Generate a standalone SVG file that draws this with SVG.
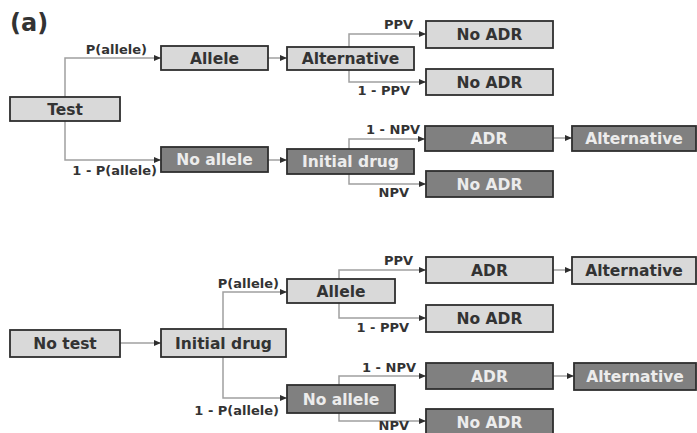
<svg xmlns="http://www.w3.org/2000/svg" width="697" height="433" viewBox="0 0 697 433">
<defs>
<marker id="ah" markerWidth="7" markerHeight="6" refX="7" refY="3" orient="auto" markerUnits="userSpaceOnUse">
<path d="M0,0 L7,3 L0,6 Z" fill="#2e2e2e"/>
</marker>
<style>
.lt{fill:#d9d9d9;stroke:#2e2e2e;stroke-width:1.8}
.dk{fill:#808080;stroke:#2e2e2e;stroke-width:1.8}
.t{font-family:"DejaVu Sans",sans-serif;font-weight:bold;font-size:15.5px;text-anchor:middle;fill:#333}
.tw{font-family:"DejaVu Sans",sans-serif;font-weight:bold;font-size:15.5px;text-anchor:middle;fill:#ececec}
.lb{font-family:"DejaVu Sans",sans-serif;font-weight:bold;font-size:13px;fill:#333}
.c{fill:none;stroke:#a0a0a0;stroke-width:1.5;marker-end:url(#ah)}
</style>
</defs>
<rect width="697" height="433" fill="#ffffff"/>
<text x="10" y="31" style="font-family:'DejaVu Sans',sans-serif;font-weight:bold;font-size:24px;fill:#333">(a)</text>

<g id="connectors">
<path class="c" d="M65,97 V58 H161"/>
<path class="c" d="M65,121 V160 H161"/>
<path class="c" d="M268,58 H287"/>
<path class="c" d="M268,160 H287"/>
<path class="c" d="M349,47 V34 H426"/>
<path class="c" d="M349,70 V82 H426"/>
<path class="c" d="M349,149 V139 H425"/>
<path class="c" d="M349,174 V184 H426"/>
<path class="c" d="M553,138 H572"/>
<path class="c" d="M120,343 H161"/>
<path class="c" d="M223,329 V292 H287"/>
<path class="c" d="M223,357 V398 H287"/>
<path class="c" d="M339,279 V270 H426"/>
<path class="c" d="M339,303 V318 H426"/>
<path class="c" d="M339,385 V376 H426"/>
<path class="c" d="M339,413 V421 H426"/>
<path class="c" d="M553,270 H572"/>
<path class="c" d="M553,376 H574"/>
</g>

<g id="labels">
<text class="lb" x="147" y="54" text-anchor="end">P(allele)</text>
<text class="lb" x="157" y="175" text-anchor="end">1 - P(allele)</text>
<text class="lb" x="413" y="29" text-anchor="end">PPV</text>
<text class="lb" x="410" y="95" text-anchor="end">1 - PPV</text>
<text class="lb" x="420" y="134" text-anchor="end">1 - NPV</text>
<text class="lb" x="409" y="197" text-anchor="end">NPV</text>
<text class="lb" x="279" y="288" text-anchor="end">P(allele)</text>
<text class="lb" x="279" y="415" text-anchor="end">1 - P(allele)</text>
<text class="lb" x="413" y="265" text-anchor="end">PPV</text>
<text class="lb" x="409" y="332" text-anchor="end">1 - PPV</text>
<text class="lb" x="416" y="372" text-anchor="end">1 - NPV</text>
<text class="lb" x="409" y="429.5" text-anchor="end">NPV</text>
</g>

<g id="test"><rect class="lt" x="10" y="97" width="110" height="24"/><text class="t" x="65" y="114.5">Test</text></g>
<g id="allele1"><rect class="lt" x="161" y="46" width="107" height="24"/><text class="t" x="214.5" y="63.5">Allele</text></g>
<g id="noallele1"><rect class="dk" x="161" y="147" width="107" height="25"/><text class="tw" x="214.5" y="165">No allele</text></g>
<g id="alternative1"><rect class="lt" x="287" y="47" width="127" height="23"/><text class="t" x="350.5" y="64">Alternative</text></g>
<g id="initialdrug1"><rect class="dk" x="287" y="149" width="127" height="25"/><text class="tw" x="350.5" y="167">Initial drug</text></g>
<g id="noadr1"><rect class="lt" x="426" y="21" width="127" height="27"/><text class="t" x="489.5" y="40">No ADR</text></g>
<g id="noadr2"><rect class="lt" x="426" y="69" width="127" height="26"/><text class="t" x="489.5" y="87.5">No ADR</text></g>
<g id="adr1"><rect class="dk" x="425" y="126" width="128" height="25"/><text class="tw" x="489" y="144">ADR</text></g>
<g id="alternative2"><rect class="dk" x="572" y="126" width="124" height="25"/><text class="tw" x="634" y="144">Alternative</text></g>
<g id="noadr3"><rect class="dk" x="426" y="171" width="127" height="26"/><text class="tw" x="489.5" y="189.5">No ADR</text></g>

<g id="notest"><rect class="lt" x="10" y="330" width="110" height="27"/><text class="t" x="65" y="349">No test</text></g>
<g id="initialdrug2"><rect class="lt" x="161" y="329" width="125" height="28"/><text class="t" x="223.5" y="348.5">Initial drug</text></g>
<g id="allele2"><rect class="lt" x="287" y="279" width="108" height="24"/><text class="t" x="341" y="296.5">Allele</text></g>
<g id="noallele2"><rect class="dk" x="287" y="385" width="108" height="28"/><text class="tw" x="341" y="404.5">No allele</text></g>
<g id="adr2"><rect class="lt" x="426" y="257" width="127" height="26"/><text class="t" x="489.5" y="275.5">ADR</text></g>
<g id="alternative3"><rect class="lt" x="572" y="257" width="124" height="27"/><text class="t" x="634" y="276">Alternative</text></g>
<g id="noadr4"><rect class="lt" x="426" y="305" width="127" height="27"/><text class="t" x="489.5" y="324">No ADR</text></g>
<g id="adr3"><rect class="dk" x="426" y="363" width="127" height="26"/><text class="tw" x="489.5" y="381.5">ADR</text></g>
<g id="alternative4"><rect class="dk" x="574" y="363" width="122" height="27"/><text class="tw" x="635" y="382">Alternative</text></g>
<g id="noadr5"><rect class="dk" x="426" y="409" width="127" height="27"/><text class="tw" x="489.5" y="428">No ADR</text></g>
</svg>
